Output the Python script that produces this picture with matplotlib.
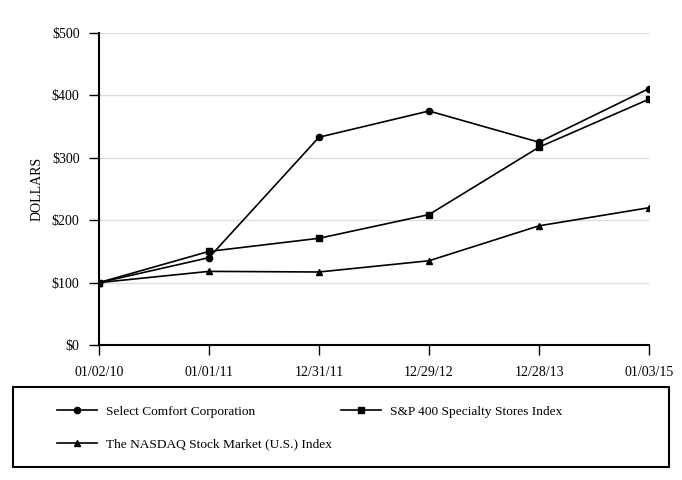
import matplotlib
matplotlib.use("Agg")
import matplotlib.pyplot as plt
from matplotlib.patches import Rectangle

dates = ["01/02/10", "01/01/11", "12/31/11", "12/29/12", "12/28/13", "01/03/15"]
select_comfort = [100, 140, 333, 375, 325, 411]
sp400_specialty = [100, 150, 171, 209, 317, 394]
nasdaq = [100, 118, 117, 135, 191, 220]
series_names = ["Select Comfort Corporation", "S&P 400 Specialty Stores Index",
                "The NASDAQ Stock Market (U.S.) Index"]
yticks = [0, 100, 200, 300, 400, 500]

plt.rcParams['font.family'] = ['Liberation Serif', 'DejaVu Serif']

W, H = 682, 480
fig = plt.figure(figsize=(W/100, H/100), dpi=100)
ax = fig.add_axes([99/W, 1-345/H, 550/W, 312/H])

x = list(range(len(dates)))
h1, = ax.plot(x, select_comfort, color='black', lw=1.2, marker='o', ms=4.5, label=series_names[0])
h2, = ax.plot(x, sp400_specialty, color='black', lw=1.2, marker='s', ms=4.5, label=series_names[1])
h3, = ax.plot(x, nasdaq, color='black', lw=1.2, marker='^', ms=4.5, label=series_names[2])

ax.set_xlim(0, len(dates)-1)
ax.set_ylim(0, 500)
ax.set_yticks(yticks)
ax.set_yticklabels([f"${v}" for v in yticks])
ax.set_xticks(x)
ax.set_xticklabels(dates)
ax.yaxis.grid(True, color='#dddddd', lw=1)
ax.set_axisbelow(True)
for s in ['top', 'right']:
    ax.spines[s].set_visible(False)
for s in ['left', 'bottom']:
    ax.spines[s].set_linewidth(1.5)
ax.tick_params(axis='both', labelsize=10, direction='out', length=7, width=1)
ax.tick_params(axis='x', pad=8)
ax.tick_params(axis='y', pad=7)
ax.set_ylabel("DOLLARS", fontsize=10, labelpad=6)

# legend frame
fig.patches.append(Rectangle((13/W, 1-467/H), (669-13)/W, (467-387)/H,
                             transform=fig.transFigure, fill=False,
                             edgecolor='black', lw=1.5))

leg = fig.legend(handles=[h1, h3, h2], loc='center left',
                 bbox_to_anchor=(57/W, 1-428/H),
                 ncol=2, fontsize=9.6, frameon=False,
                 handlelength=3.0, borderaxespad=0, borderpad=0,
                 labelspacing=1.5, handletextpad=0.68, columnspacing=0.66)

fig.savefig("out.png", dpi=100)
